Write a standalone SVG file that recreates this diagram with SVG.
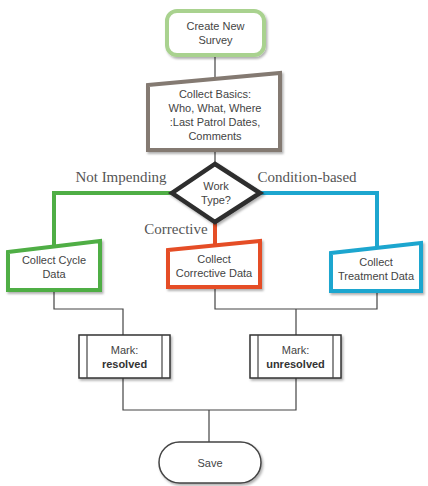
<svg xmlns="http://www.w3.org/2000/svg" width="428" height="486" viewBox="0 0 428 486">
<style>
.t{font-family:"Liberation Sans",Arial,sans-serif;font-size:11px;fill:#444;text-anchor:middle}
.b{font-weight:bold;fill:#333}
.lbl{font-family:"Liberation Serif","Times New Roman",serif;font-size:15px;fill:#555;text-anchor:middle}
.ln{fill:none;stroke:#444;stroke-width:1.2}
.box{fill:#fff}
</style>
<defs>
<filter id="sh" x="-10%" y="-10%" width="130%" height="140%">
<feDropShadow dx="1.5" dy="2" stdDeviation="1.2" flood-color="#000" flood-opacity="0.3"/>
</filter>
</defs>
<g id="connectors">
<path class="ln" d="M215 55V80"/>
<path class="ln" d="M215 150V164"/>
<path fill="none" stroke="#4fae45" stroke-width="4" d="M172 193H54V246"/>
<path fill="none" stroke="#1da6cf" stroke-width="4" d="M260 193H377V247"/>
<path fill="none" stroke="#e54e26" stroke-width="4" d="M215 222V245"/>
<path class="ln" d="M54 290V309H123V335"/>
<path class="ln" d="M215 287V309H377V292M296 309V335"/>
<path class="ln" d="M123 378V410H296V378M209 410V442"/>
</g>
<g id="create">
<rect x="167" y="11" width="97" height="44" rx="10" class="box" stroke="#a9d28f" stroke-width="4" filter="url(#sh)"/>
<text class="t" x="215.500" y="30">Create New</text>
<text class="t" x="215.500" y="44">Survey</text>
</g>
<g id="basics">
<path d="M148 85L280 73V150H148Z" class="box" stroke="#847a72" stroke-width="4" filter="url(#sh)"/>
<text class="t" x="215" y="98">Collect Basics:</text>
<text class="t" x="215" y="112">Who, What, Where</text>
<text class="t" x="215" y="126">:Last Patrol Dates,</text>
<text class="t" x="215" y="140">Comments</text>
</g>
<g id="worktype">
<path d="M215 164L260 193L215 222L172 193Z" class="box" stroke="#2e2e2e" stroke-width="4.5" stroke-linejoin="miter" filter="url(#sh)"/>
<text class="t" x="216" y="190">Work</text>
<text class="t" x="216" y="204">Type?</text>
</g>
<g id="labels">
<text class="lbl" x="121" y="182">Not Impending</text>
<text class="lbl" x="307" y="182">Condition-based</text>
<text class="lbl" x="176" y="234">Corrective</text>
</g>
<g id="cycle">
<path d="M8 252L100 241V290H8Z" class="box" stroke="#4fae45" stroke-width="4" filter="url(#sh)"/>
<text class="t" x="54" y="264">Collect Cycle</text>
<text class="t" x="54" y="278">Data</text>
</g>
<g id="corrective">
<path d="M168 250L260 241V287H168Z" class="box" stroke="#e54e26" stroke-width="4" filter="url(#sh)"/>
<text class="t" x="214" y="263">Collect</text>
<text class="t" x="214" y="277">Corrective Data</text>
</g>
<g id="treatment">
<path d="M331 253L421 243V291H331Z" class="box" stroke="#1da6cf" stroke-width="4" filter="url(#sh)"/>
<text class="t" x="376" y="266">Collect</text>
<text class="t" x="376" y="280">Treatment Data</text>
</g>
<g id="resolved">
<rect x="79" y="335" width="91" height="43" class="box" stroke="#333" stroke-width="1.5" filter="url(#sh)"/>
<path class="ln" d="M87 335V378M162 335V378"/>
<text class="t" x="124.500" y="354">Mark:</text>
<text class="t b" x="124.500" y="368">resolved</text>
</g>
<g id="unresolved">
<rect x="250" y="335" width="91" height="43" class="box" stroke="#333" stroke-width="1.5" filter="url(#sh)"/>
<path class="ln" d="M258 335V378M333 335V378"/>
<text class="t" x="295.500" y="354">Mark:</text>
<text class="t b" x="295.500" y="368">unresolved</text>
</g>
<g id="save">
<rect x="159" y="442" width="102" height="41" rx="20.500" class="box" stroke="#444" stroke-width="1.5" filter="url(#sh)"/>
<text class="t" x="210" y="467">Save</text>
</g>
</svg>
